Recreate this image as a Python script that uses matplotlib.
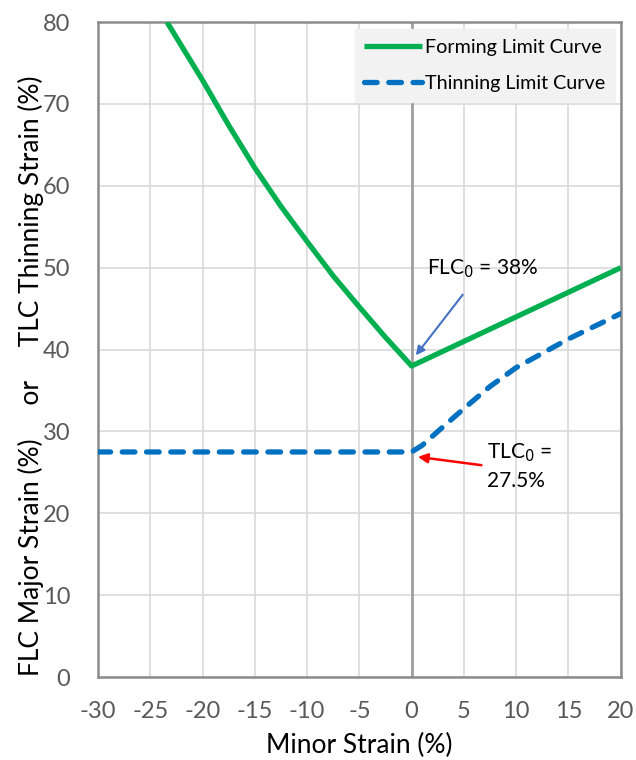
import matplotlib.pyplot as plt

plt.rcParams['font.family'] = ['Lato', 'DejaVu Sans']
plt.rcParams['axes.unicode_minus'] = False

# Forming limit curve
flc_x = [-23.4, -20, -17.5, -15, -12.5, -10, -7.5, -5, -2.5, 0, 20]
flc_y = [80, 72.9, 67.4, 62.2, 57.5, 53.2, 49.0, 45.2, 41.5, 38.0, 50.0]

# Thinning limit curve
tlc_x = [-30, 0, 1, 2.5, 5, 7.5, 10, 15, 20]
tlc_y = [27.5, 27.5, 28.3, 30.0, 32.8, 35.5, 37.8, 41.3, 44.4]

x_ticks = [-30, -25, -20, -15, -10, -5, 0, 5, 10, 15, 20]
y_ticks = [0, 10, 20, 30, 40, 50, 60, 70, 80]

fig = plt.figure(figsize=(6.36, 7.6), dpi=100)
ax = fig.add_axes([0.154, 0.109, 0.822, 0.862])

ax.set_xlim(-30, 20)
ax.set_ylim(0, 80)
ax.set_xticks(x_ticks)
ax.set_yticks(y_ticks)
ax.grid(True, color='#d9d9d9', linewidth=1.2)
ax.set_axisbelow(True)
ax.tick_params(length=0, labelsize=17, labelcolor='#595959')
ax.tick_params(axis='y', pad=20)
ax.tick_params(axis='x', pad=17)
for s in ax.spines.values():
    s.set_color('#8c8c8c')
    s.set_linewidth(1.8)

ax.axvline(0, color='#a0a0a0', linewidth=2, zorder=1.5)

ax.plot(flc_x, flc_y, color='#00B050', linewidth=3.8,
        solid_capstyle='butt', solid_joinstyle='round',
        label='Forming Limit Curve', zorder=3)
ax.plot(tlc_x, tlc_y, color='#0070C0', linewidth=3.8,
        dashes=(2.4, 2.2), dash_capstyle='round',
        label='Thinning Limit Curve', zorder=3)

ax.set_xlabel('Minor Strain (%)', fontsize=19, labelpad=8)
ax.set_ylabel('FLC Major Strain (%)     or     TLC Thinning Strain (%)',
              fontsize=19)
ax.yaxis.set_label_coords(-0.103, 0.46)

leg = ax.legend(loc='upper right', bbox_to_anchor=(0.996, 0.995), fontsize=14.2,
                frameon=True, fancybox=False, handlelength=2.9,
                handletextpad=0.15, labelspacing=0.95, borderpad=0.5,
                borderaxespad=0.2)
leg.get_frame().set_facecolor('#f2f2f2')
leg.get_frame().set_edgecolor('#f2f2f2')
leg.get_frame().set_alpha(1)

ax.annotate('FLC$_0$ = 38%', xy=(0.4, 39.3), xytext=(1.5, 49.9),
            fontsize=15, ha='left', va='center',
            arrowprops=dict(arrowstyle='-|>', color='#4472C4', lw=1.5,
                            shrinkA=11, shrinkB=0, mutation_scale=13))
ax.annotate('TLC$_0$ =\n27.5%', xy=(0.6, 26.9), xytext=(7.2, 25.8),
            fontsize=15, ha='left', va='center', linespacing=1.45,
            arrowprops=dict(arrowstyle='-|>', color='#FF0000', lw=1.8,
                            shrinkA=2, shrinkB=0, mutation_scale=14,
                            relpos=(0, 0.5)))

fig.savefig('out.png', dpi=100)
